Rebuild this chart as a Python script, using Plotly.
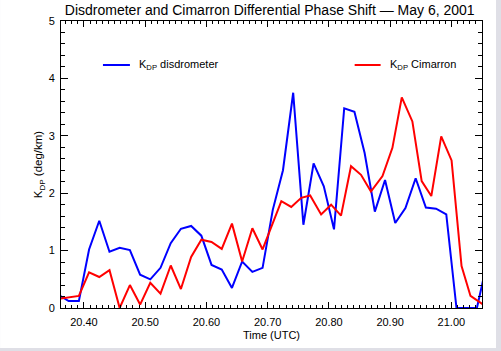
import plotly.graph_objects as go

# ---- data ----
time_dis = [20 + m / 60 for m in
            [21.5, 22.5, 23.5, 24.5, 25.5, 26.5, 27.5, 28.5, 29.5, 30.5, 31.5, 32.5, 33.5, 34.5,
             35.5, 36.5, 37.5, 38.5, 39.5, 40.5, 41.5, 42.5, 43.5, 44.5, 45.5, 46.5, 47.5, 48.5,
             49.5, 50.5, 51.5, 52.5, 53.5, 54.5, 55.5, 56.5, 57.5, 58.5, 59.5, 60.5, 61.5, 62.5, 63.5]]
kdp_dis = [0.23, 0.12, 0.12, 1.02, 1.52, 0.98, 1.05, 1.01, 0.58, 0.50, 0.70, 1.13, 1.38, 1.43,
           1.26, 0.75, 0.67, 0.35, 0.81, 0.63, 0.70, 1.71, 2.40, 3.75, 1.45, 2.52, 2.12, 1.37,
           3.48, 3.42, 2.70, 1.68, 2.23, 1.48, 1.74, 2.26, 1.75, 1.73, 1.63, 0.0, 0.0, 0.0, 0.8]

time_cim = [20.3583, 20.3750, 20.3917, 20.4083, 20.4250, 20.4417, 20.4583, 20.4750, 20.4917,
            20.5083, 20.5250, 20.5417, 20.5583, 20.5750, 20.5917, 20.6083, 20.6250, 20.6417,
            20.6583, 20.6750, 20.6917,
            20.7223, 20.7385, 20.7548, 20.7694, 20.7873, 20.8036, 20.8198, 20.8361, 20.8524,
            20.8686, 20.8875, 20.9037, 20.9190, 20.9363, 20.9515, 20.9672, 20.9834, 21.0003,
            21.0166, 21.0312, 21.0560]
kdp_cim = [0.16, 0.19, 0.21, 0.62, 0.54, 0.66, 0.0, 0.40, 0.06,
           0.44, 0.25, 0.74, 0.33, 0.89, 1.19, 1.15, 1.03, 1.47,
           0.81, 1.39, 1.02,
           1.86, 1.76, 1.92, 1.96, 1.63, 1.80, 1.61, 2.47, 2.32,
           2.03, 2.30, 2.79, 3.67, 3.25, 2.21, 1.95, 2.99, 2.57,
           0.73, 0.21, 0.03]

x_ticks = [20.40, 20.50, 20.60, 20.70, 20.80, 20.90, 21.00]
y_ticks = [0, 1, 2, 3, 4, 5]

FONT = "Liberation Sans, Arial, sans-serif"

fig = go.Figure()
fig.add_trace(go.Scatter(x=time_dis, y=kdp_dis, mode="lines",
                         line=dict(color="#0000ff", width=2), name="disdrometer",
                         showlegend=False))
fig.add_trace(go.Scatter(x=time_cim, y=kdp_cim, mode="lines",
                         line=dict(color="#ff0000", width=2), name="Cimarron",
                         showlegend=False))

W, H = 501, 351
L, R, T, B = 61, 18.5, 21, 43
pw, ph = W - L - R, H - T - B

def px_x(p):
    return (p - L) / pw

def px_y(p):
    return 1 - (p - T) / ph

# outer grey frame (page border)
fig.add_shape(type="rect", xref="paper", yref="paper",
              x0=px_x(0), x1=px_x(496.5), y0=px_y(348), y1=px_y(0),
              fillcolor="white", line=dict(width=0), layer="below")

# legend samples
legend_items = [("K<sub>DP</sub> disdrometer", "#0000ff", 103, 130, 137),
                ("K<sub>DP</sub> Cimarron", "#ff0000", 355, 381, 388)]
for text, col, xa, xb, xt in legend_items:
    fig.add_shape(type="line", xref="paper", yref="paper",
                  x0=px_x(xa), x1=px_x(xb), y0=px_y(65), y1=px_y(65),
                  line=dict(color=col, width=2))
    fig.add_annotation(x=px_x(xt), y=px_y(65), xref="paper", yref="paper",
                       text=text, showarrow=False, xanchor="left", yanchor="middle",
                       font=dict(family=FONT, size=11, color="black"))

axis_common = dict(showline=True, linecolor="black", linewidth=1, mirror="allticks",
                   ticks="inside", tickcolor="black", showgrid=False, zeroline=False,
                   tickfont=dict(family=FONT, size=11, color="black"))

fig.update_xaxes(range=[20.3625, 21.05], tickvals=x_ticks, ticktext=[f"{v:.2f}" for v in x_ticks],
                 ticklen=6, minor=dict(dtick=0.01, tick0=20.4, ticks="inside", ticklen=3,
                                       tickcolor="black"),
                 title=dict(text="Time (UTC)", font=dict(family=FONT, size=11, color="black"),
                            standoff=4),
                 ticklabelstandoff=4,
                 **axis_common)
fig.update_yaxes(range=[0, 5], tickvals=y_ticks, ticktext=[str(v) for v in y_ticks],
                 ticklen=7, minor=dict(dtick=0.2, tick0=0, ticks="inside", ticklen=4,
                                       tickcolor="black"),
                 title=dict(text="K<sub>DP</sub> (deg/km)",
                            font=dict(family=FONT, size=11.5, color="black"), standoff=3),
                 ticklabelstandoff=3,
                 **axis_common)

fig.update_layout(
    width=W, height=H,
    margin=dict(l=L, r=R, t=T, b=B, pad=0),
    paper_bgcolor="#dfdfe6", plot_bgcolor="white",
    title=dict(text="Disdrometer and Cimarron Differential Phase Shift — May 6, 2001",
               x=px_x(270), xref="paper", xanchor="center", y=1 - 10.5 / H, yanchor="middle",
               font=dict(family=FONT, size=14, color="black")),
)

fig.write_html("out.html")
